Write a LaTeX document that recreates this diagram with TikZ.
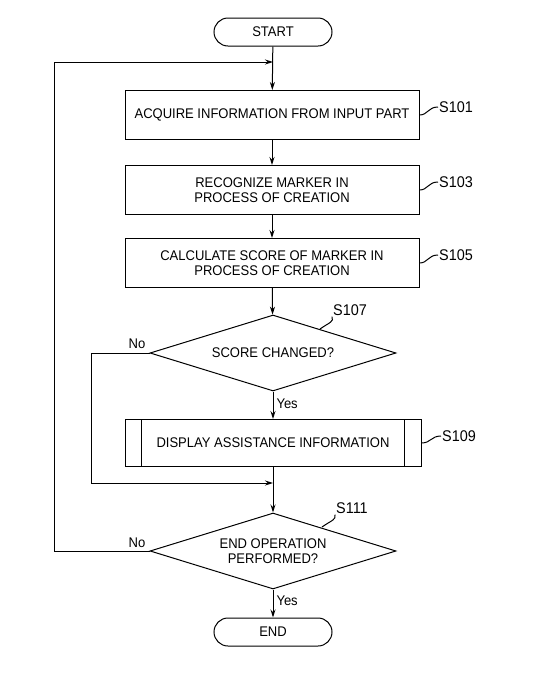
\documentclass[tikz,border=0pt]{standalone}
\usepackage{fontspec}
\setmainfont[FakeStretch=0.93]{Liberation Sans}
\usetikzlibrary{shapes.geometric,arrows.meta}
\begin{document}
\begin{tikzpicture}[x=1pt,y=-1pt,
  every node/.style={font=\fontsize{14}{15}\selectfont},
  line/.style={line width=1pt},
  arr/.style={line width=1pt,-{Stealth[length=8pt,width=5pt]}},
  term/.style={draw,line width=1pt,rounded corners=14pt,minimum width=118pt,minimum height=28pt,inner sep=0pt},
  pbox/.style={draw,line width=1pt,minimum width=294pt,minimum height=49pt,inner sep=0pt,align=center},
  dec/.style={draw,line width=1pt,diamond,aspect=3.2,minimum width=246pt,minimum height=76pt,inner sep=0pt,align=center},
  steplbl/.style={font=\fontsize{15.5}{16}\selectfont,inner sep=1pt},
  yn/.style={font=\fontsize{14}{15}\selectfont,inner sep=1pt}]
\useasboundingbox (0,0) rectangle (537,681);
\node[term] (start) at (273,32) {START};
\node[pbox] (s101) at (272,115) {ACQUIRE INFORMATION FROM INPUT PART};
\node[pbox] (s103) at (272,190) {RECOGNIZE MARKER IN\\PROCESS OF CREATION};
\node[pbox] (s105) at (272,263) {CALCULATE SCORE OF MARKER IN\\PROCESS OF CREATION};
\node[dec] (d1) at (273,353) {SCORE CHANGED?};
\node[pbox,minimum width=296pt,minimum height=47pt] (s109) at (273,443) {DISPLAY ASSISTANCE INFORMATION};
\draw[line] ([xshift=17pt]s109.north west) -- ([xshift=17pt]s109.south west);
\draw[line] ([xshift=-17pt]s109.north east) -- ([xshift=-17pt]s109.south east);
\node[dec] (d2) at (273,551) {END OPERATION\\PERFORMED?};
\node[term] (end) at (273,632) {END};
% step labels
\node[steplbl,anchor=west] (l101) at (438,107) {S101};
\node[steplbl,anchor=west] (l103) at (438,182) {S103};
\node[steplbl,anchor=west] (l105) at (438,255) {S105};
\node[steplbl,anchor=west] (l109) at (441,436) {S109};
\node[steplbl] (l107) at (350,310) {S107};
\node[steplbl] (l111) at (352,508) {S111};
\draw[line] (s101.east) .. controls (428,115) and (428,107) .. (l101.west);
\draw[line] (s103.east) .. controls (428,190) and (428,182) .. (l103.west);
\draw[line] (s105.east) .. controls (428,263) and (428,255) .. (l105.west);
\draw[line] (s109.east) .. controls (431,443) and (431,436) .. (l109.west);
\coordinate (c107) at (320,329);
\coordinate (c111) at (322,527);
\draw[line] (c107) .. controls (330,322) and (334,322) .. (l107.south west);
\draw[line] (c111) .. controls (332,520) and (336,520) .. (l111.south west);
% flow
\coordinate (j1) at (273,62);
\coordinate (j2) at (273,483);
\coordinate (a1) at (91,353);
\coordinate (a2) at (91,483);
\coordinate (b1) at (54,551);
\coordinate (b2) at (54,62);
\draw[arr] (start) -- (s101);
\draw[arr] (s101) -- (s103);
\draw[arr] (s103) -- (s105);
\draw[arr] (s105) -- (d1);
\draw[arr] (d1) -- node[yn,anchor=west,pos=0.45,xshift=2pt] (y1) {Yes} (s109);
\draw[arr] (s109) -- (d2);
\draw[arr] (d2) -- node[yn,anchor=west,pos=0.4,xshift=2pt] (y2) {Yes} (end);
\draw[arr] (d1.west) -- (a1) -- (a2) -- (j2);
\draw[arr] (d2.west) -- (b1) -- (b2) -- (j1);
\node[yn] (n1) at (137,344) {No};
\node[yn] (n2) at (137,543) {No};
\end{tikzpicture}
\end{document}
